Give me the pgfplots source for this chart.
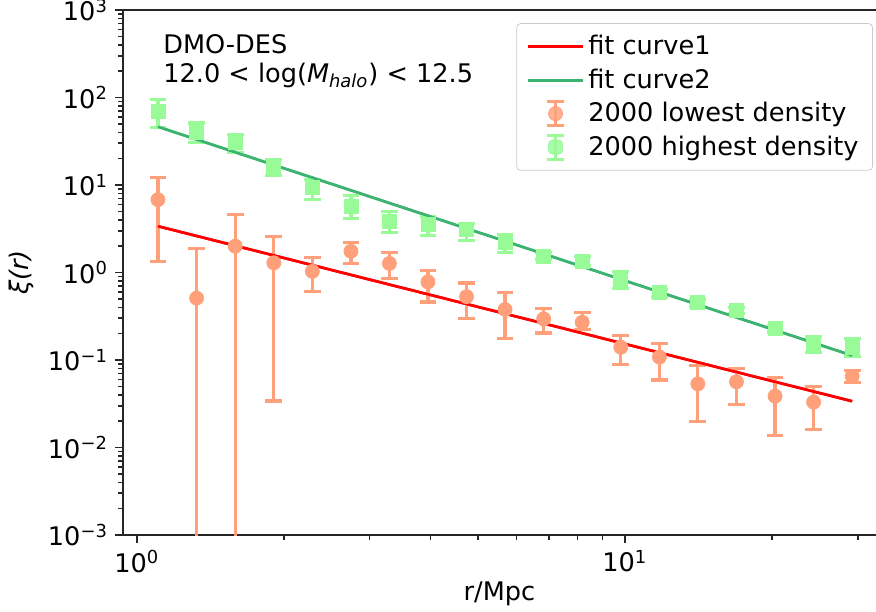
\documentclass[border=0pt]{standalone}
\usepackage{fontspec}
\setmainfont{DejaVu Sans}
\usepackage{pgfplots}
\usepackage{pgfplotstable}
\pgfplotsset{compat=1.18}

\definecolor{fitred}{HTML}{FF0000}
\definecolor{fitgreen}{HTML}{3CB371}
\definecolor{lowc}{HTML}{FFA07A}
\definecolor{highc}{HTML}{98FB98}

% x, y, upper error, lower error
\pgfplotstableread{
x      y       ep      em
1.105  69      26      24
1.326  40      11      9.4
1.591  30.4    7.4     6.9
1.909  16.4    3.2     3.5
2.289  9.3     2.3     2.5
2.746  5.7     1.9     1.6
3.293  3.86    1.08    1.02
3.950  3.54    0.86    0.89
4.738  3.1     0.53    0.76
5.683  2.18    0.54    0.47
6.817  1.54    0.15    0.14
8.176  1.35    0.17    0.16
9.809  0.83    0.2     0.18
11.77  0.586   0.06    0.06
14.11  0.45    0.045   0.045
16.93  0.368   0.03    0.03
20.31  0.229   0.02    0.02
24.36  0.15    0.034   0.027
29.22  0.141   0.034   0.032
}\highdens

\pgfplotstableread{
x      y       ep      em
1.105  6.8     5.3     5.45
1.326  0.51    1.36    0.5099
1.591  2.0     2.6     1.9999
1.909  1.29    1.27    1.256
2.289  1.03    0.44    0.42
2.746  1.75    0.47    0.48
3.293  1.27    0.41    0.42
3.950  0.78    0.28    0.32
4.738  0.53    0.23    0.23
5.683  0.378   0.208   0.203
6.817  0.295   0.09    0.091
8.176  0.27    0.082   0.047
9.809  0.14    0.052   0.051
11.77  0.108   0.046   0.049
14.11  0.0534  0.0336  0.0334
16.93  0.0564  0.0236  0.0254
20.31  0.0386  0.025   0.0248
24.36  0.033   0.0163  0.0169
29.22  0.0653  0.0111  0.0105
}\lowdens

\begin{document}
\begin{tikzpicture}
\begin{axis}[
    at={(0,0)}, anchor=south west,
    scale only axis, width=376.5pt, height=262.5pt,
    xmode=log, ymode=log,
    xmin=0.937, xmax=32.7, ymin=1e-3, ymax=1e3,
    axis x line*=box, axis y line*=left,
    xtick pos=left, ytick pos=left,
    axis line style={line width=1pt, black!85},
    tick style={line width=0.8pt, black!85},
    tick align=outside,
    major tick length=4pt, minor tick length=2.5pt,
    xtick={1,10}, xticklabels={10\textsuperscript{0},10\textsuperscript{1}},
    minor xtick={2,3,4,5,6,7,8,9,20,30},
    ytick={1e-3,1e-2,1e-1,1,10,100,1000},
    yticklabels={10\textsuperscript{−3},10\textsuperscript{−2},10\textsuperscript{−1},10\textsuperscript{0},10\textsuperscript{1},10\textsuperscript{2},10\textsuperscript{3}},
    minor ytick={0.002,0.003,0.004,0.005,0.006,0.007,0.008,0.009,
                 0.02,0.03,0.04,0.05,0.06,0.07,0.08,0.09,
                 0.2,0.3,0.4,0.5,0.6,0.7,0.8,0.9,
                 2,3,4,5,6,7,8,9,20,30,40,50,60,70,80,90,
                 200,300,400,500,600,700,800,900},
    ticklabel style={font=\fontsize{12.8}{14}\selectfont},
    label style={font=\fontsize{12.8}{14}\selectfont},
    xlabel={r/Mpc},
    xlabel style={yshift=2pt},
    ylabel={\itshape ξ(r)},
    legend style={draw=black!20, rounded corners=2pt, fill=white, fill opacity=0.8,
        text opacity=1, font=\fontsize{12.8}{14}\selectfont,
        at={(0.996,0.975)}, anchor=north east,
        inner xsep=5pt, inner ysep=4pt, row sep=1.5pt,
        /tikz/every even column/.append style={column sep=7pt}},
    legend cell align=left,
    error bars/y dir=both, error bars/y explicit,
]
% fit lines (legend)
\addplot[fitred, line width=1.3pt,
    legend image code/.code={\draw[fitred, line width=1.3pt] (0pt,0pt) -- (27.5pt,0pt);}]
    coordinates {(1.105,3.38) (29.22,0.0338)};
\addlegendentry{fit curve1}
\addplot[fitgreen, line width=1.3pt,
    legend image code/.code={\draw[fitgreen, line width=1.3pt] (0pt,0pt) -- (27.5pt,0pt);}]
    coordinates {(1.105,46.3) (29.22,0.1125)};
\addlegendentry{fit curve2}

% data with errors
\addplot[only marks, mark=*, mark size=3.5pt, color=lowc,
    error bars/error bar style={line width=1.6pt, lowc},
    error bars/error mark options={rotate=90, mark size=4.2pt, line width=1.6pt, lowc},
    legend image code/.code={
        \draw[lowc, line width=1.6pt] (13.75pt,-6pt) -- (13.75pt,6pt);
        \draw[lowc, line width=1.6pt] (9.5pt,-6pt) -- (18pt,-6pt);
        \draw[lowc, line width=1.6pt] (9.5pt,6pt) -- (18pt,6pt);
        \fill[lowc] (13.75pt,0pt) circle (3.5pt);}]
    table[x=x, y=y, y error plus=ep, y error minus=em] {\lowdens};
\addlegendentry{2000 lowest density}
\addplot[only marks, mark=square*, mark size=3.5pt, color=highc,
    error bars/error bar style={line width=1.6pt, highc},
    error bars/error mark options={rotate=90, mark size=4.2pt, line width=1.6pt, highc},
    legend image code/.code={
        \draw[highc, line width=1.6pt] (13.75pt,-6pt) -- (13.75pt,6pt);
        \draw[highc, line width=1.6pt] (9.5pt,-6pt) -- (18pt,-6pt);
        \draw[highc, line width=1.6pt] (9.5pt,6pt) -- (18pt,6pt);
        \fill[highc] (10.25pt,-3.5pt) rectangle (17.25pt,3.5pt);}]
    table[x=x, y=y, y error plus=ep, y error minus=em] {\highdens};
\addlegendentry{2000 highest density}

% fit lines again on top
\addplot[fitred, line width=1.3pt, forget plot] coordinates {(1.105,3.38) (29.22,0.0338)};
\addplot[fitgreen, line width=1.3pt, forget plot] coordinates {(1.105,46.3) (29.22,0.1125)};

\node[anchor=north west, align=left, inner sep=0pt, font=\fontsize{12.8}{14.5}\selectfont]
    at (rel axis cs:0.053,0.955)
    {DMO-DES\\12.0 < log({\itshape M}\textsubscript{\itshape halo}) < 12.5};
\end{axis}
\pgfresetboundingbox
\path[use as bounding box] (-61.5pt,-38pt) rectangle (376.5pt,267.5pt);
\end{tikzpicture}
\end{document}
